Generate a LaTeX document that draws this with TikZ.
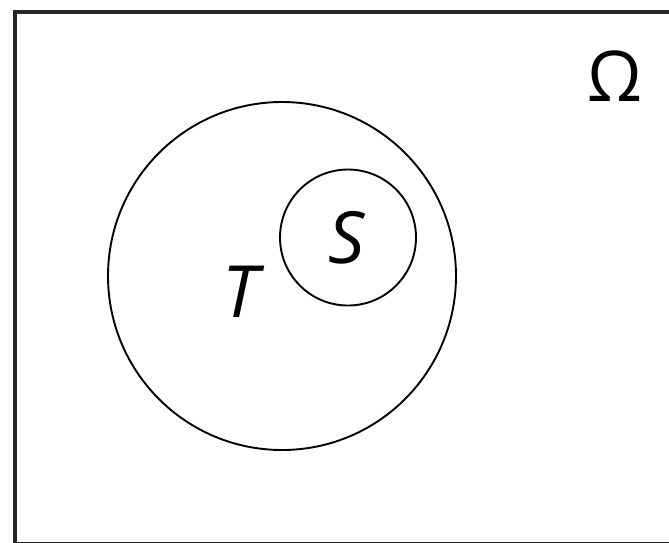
\documentclass[tikz,border=0pt]{standalone}
\usepackage{fontspec}
\setmainfont{Open Sans}
\begin{document}
\begin{tikzpicture}[x=1pt,y=-1pt,
  setcircle/.style={circle,draw,line width=1.9pt,inner sep=0pt},
  setlabel/.style={font=\fontsize{72}{80}\selectfont\itshape,inner sep=0pt},
  omegalabel/.style={font=\fontsize{70}{80}\selectfont,inner sep=0pt}]
\useasboundingbox (0,0) rectangle (669,542);
\clip (0,0) rectangle (669,542);
\fill[white] (0,0) rectangle (669,542);
\draw[line width=3.4pt,draw=black!85] (15,12) rectangle (680,543.5);
\node[setcircle,minimum size=348pt] (T) at (282,276) {};
\node[setcircle,minimum size=136pt] (S) at (348,237.5) {};
\node[setlabel] (Slab) at (347,238) {S};
\node[setlabel] (Tlab) at (240,292) {T};
\node[omegalabel] (Om) at (615,76) {Ω};
\end{tikzpicture}
\end{document}
